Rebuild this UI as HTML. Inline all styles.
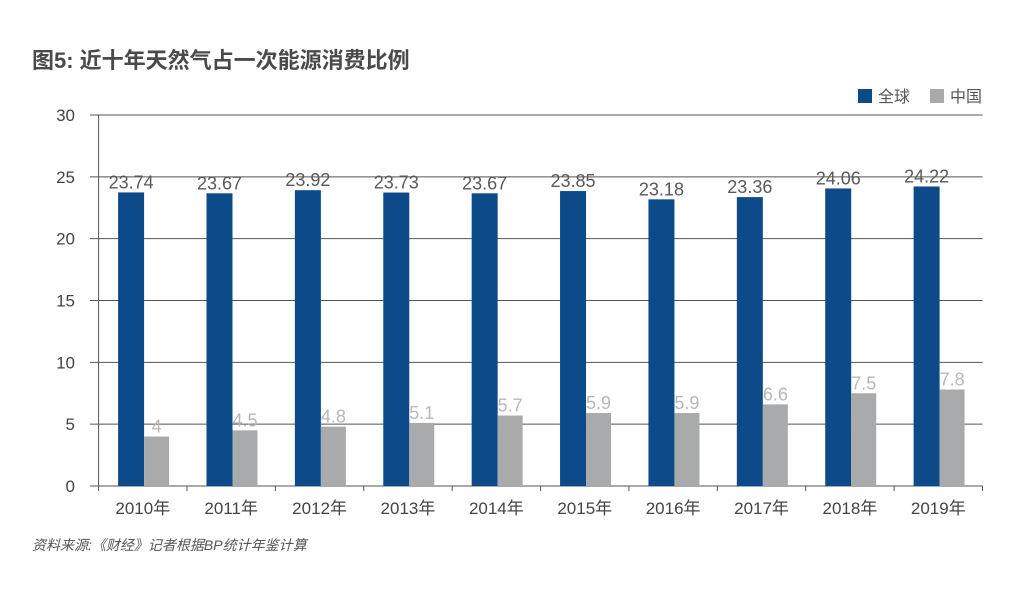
<!DOCTYPE html>
<html><head><meta charset="utf-8"><style>
body{margin:0;background:#fff;}
svg text{font-family:"Liberation Sans","Noto Sans CJK SC",sans-serif;}
</style></head><body>
<svg width="1032" height="584" viewBox="0 0 1032 584" xmlns="http://www.w3.org/2000/svg">
<text x="32" y="68" font-size="22" font-weight="bold" fill="#4a4a4a">图5: 近十年天然气占一次能源消费比例</text>
<g>
<rect x="858" y="89" width="14" height="14" fill="#0d4a8a"/>
<text x="878" y="102" font-size="16" fill="#555">全球</text>
<rect x="930" y="89" width="14" height="14" fill="#a8aaac"/>
<text x="950" y="102" font-size="16" fill="#555">中国</text>
</g>
<g id="grid"></g><g id="bars"></g><g id="labels"></g>
<text x="32" y="550" font-size="14" font-style="italic" fill="#555">资料来源:《财经》记者根据BP统计年鉴计算</text>
</svg>
<script>
const categories=["2010年","2011年","2012年","2013年","2014年","2015年","2016年","2017年","2018年","2019年"];
const globalValues=[23.74,23.67,23.92,23.73,23.67,23.85,23.18,23.36,24.06,24.22];
const chinaValues=[4,4.5,4.8,5.1,5.7,5.9,5.9,6.6,7.5,7.8];
const yTicks=[0,5,10,15,20,25,30];
const NS="http://www.w3.org/2000/svg";
const x0=98.6,x1=982.5,yTop=115,yBot=486,yMax=30;
const bw=(x1-x0)/categories.length;
const y=v=>yBot-(v/yMax)*(yBot-yTop);
const grid=document.getElementById('grid'),bars=document.getElementById('bars'),labels=document.getElementById('labels');
function mk(tag,attrs,parent,txt){const e=document.createElementNS(NS,tag);for(const k in attrs)e.setAttribute(k,attrs[k]);if(txt!==undefined)e.textContent=txt;parent.appendChild(e);return e;}
yTicks.forEach(t=>{
  const l=mk('line',{x1:90,x2:x1,y1:y(t),y2:y(t),stroke:'#555','stroke-width':1},grid);
  
  
  const tx=mk('text',{x:75,y:y(t)+6,'font-size':17,fill:'#444','text-anchor':'end'},grid,String(t));
  
  
});
const ax=mk('line',{x1:x0,x2:x0,y1:yTop,y2:yBot,stroke:'#555','stroke-width':1},grid);


for(let i=0;i<=categories.length;i++){
  const tk=mk('line',{x1:x0+i*bw,x2:x0+i*bw,y1:yBot,y2:yBot+5,stroke:'#555'},grid);
  
  
}
categories.forEach((c,i)=>{
  const gx=x0+i*bw;
  const b1=mk('rect',{x:gx+19.5,y:y(globalValues[i]),width:26,height:yBot-y(globalValues[i]),fill:'#0d4a8a'},bars);
  
  
  const b2=mk('rect',{x:gx+45.5,y:y(chinaValues[i]),width:25,height:yBot-y(chinaValues[i]),fill:'#a8aaac'},bars);
  
  
  const t1=mk('text',{x:gx+32.5,y:y(globalValues[i])-4,'font-size':18,fill:'#5a5a5a','text-anchor':'middle'},labels,String(globalValues[i]));
  
  
  const t2=mk('text',{x:gx+58,y:y(chinaValues[i])-4,'font-size':18,fill:'#b8b8b8','text-anchor':'middle'},labels,String(chinaValues[i]));
  
  
  const xl=mk('text',{x:gx+bw/2,y:514,'font-size':17,fill:'#444','text-anchor':'middle'},labels,c);
  
  
});
</script>
</body></html>
